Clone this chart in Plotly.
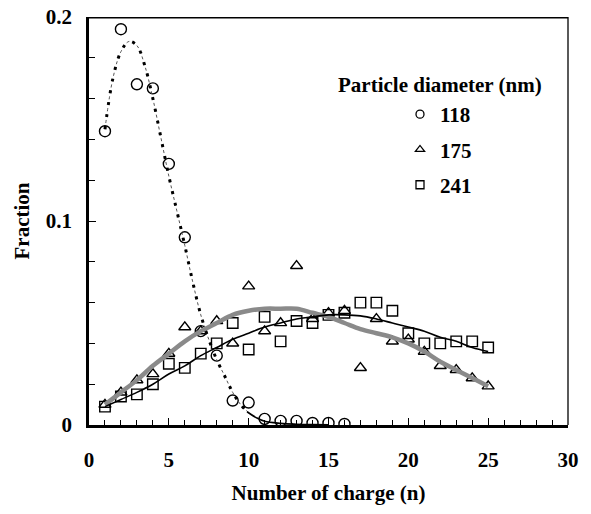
import plotly.graph_objects as go

# ---- data ----
n_118 = list(range(1, 17))
frac_118 = [0.144, 0.194, 0.167, 0.165, 0.128, 0.092, 0.046, 0.034, 0.012, 0.011,
            0.003, 0.002, 0.002, 0.001, 0.001, 0.0005]

n_175 = list(range(1, 26))
frac_175 = [0.010, 0.016, 0.022, 0.025, 0.035, 0.048, 0.046, 0.051, 0.040, 0.068,
            0.046, 0.050, 0.078, 0.052, 0.055, 0.056, 0.028, 0.052, 0.041, 0.042,
            0.036, 0.029, 0.027, 0.023, 0.019]

n_241 = list(range(1, 26))
frac_241 = [0.009, 0.014, 0.015, 0.020, 0.030, 0.028, 0.035, 0.040, 0.050, 0.037,
            0.053, 0.041, 0.051, 0.050, 0.054, 0.055, 0.060, 0.060, 0.056, 0.045,
            0.040, 0.040, 0.041, 0.041, 0.038]

# fitted curves
fit118_n = [1, 1.5, 2, 2.5, 3, 3.5, 4, 4.5, 5, 5.5, 6, 6.5, 7, 7.5, 8, 8.5, 9, 9.5, 10]
fit118_v = [0.145, 0.170, 0.183, 0.188, 0.186, 0.176, 0.160, 0.141, 0.122, 0.105,
            0.088, 0.070, 0.054, 0.042, 0.032, 0.024, 0.016, 0.010, 0.006]
tail118_n = [9.9, 10.5, 11, 12, 13, 14, 15]
tail118_v = [0.0065, 0.0035, 0.0018, 0.0008, 0.0004, 0.0002, 0.0001]

fit175_n = list(range(1, 26))
fit175_v = [0.010, 0.016, 0.022, 0.029, 0.035, 0.041, 0.046, 0.050, 0.054, 0.056,
            0.057, 0.057, 0.057, 0.055, 0.053, 0.050, 0.047, 0.045, 0.043, 0.040,
            0.036, 0.031, 0.027, 0.023, 0.019]

fit241_n = list(range(1, 26))
fit241_v = [0.009, 0.0125, 0.016, 0.020, 0.025, 0.029, 0.034, 0.038, 0.042, 0.045,
            0.048, 0.050, 0.052, 0.053, 0.054, 0.054, 0.0535, 0.052, 0.050, 0.048,
            0.046, 0.043, 0.041, 0.038, 0.036]

legend_labels = ["118", "175", "241"]
x_tickvals = [0, 5, 10, 15, 20, 25, 30]
y_tickvals = [0, 0.1, 0.2]
y_ticktext = ["0", "0.1", "0.2"]

FONT = "Liberation Serif"
FS = 21
BLACK = "#000000"
GREY = "#8a8a8a"

# the page's body margin is removed below, so figure coordinates = page coordinates
W, H = 591, 514
L, T = 89, 17
R = W - 568
B = H - 425
PW, PH = W - L - R, H - T - B


def px_x(page_x):
    return (page_x - L) / PW


def px_y(page_y):
    return 1 - (page_y - T) / PH


fig = go.Figure()

# markers
fig.add_trace(go.Scatter(x=n_118, y=frac_118, mode="markers", showlegend=False,
                         marker=dict(symbol="circle-open", size=11, color=BLACK,
                                     line=dict(width=1.4, color=BLACK))))
fig.add_trace(go.Scatter(x=n_175, y=frac_175, mode="markers", showlegend=False,
                         marker=dict(symbol="triangle-up-open", size=10.5, color=BLACK,
                                     line=dict(width=1.4, color=BLACK))))
fig.add_trace(go.Scatter(x=n_241, y=frac_241, mode="markers", showlegend=False,
                         marker=dict(symbol="square-open", size=10.5, color=BLACK,
                                     line=dict(width=1.4, color=BLACK))))

# fit lines
fig.add_trace(go.Scatter(x=fit118_n, y=fit118_v, mode="lines", showlegend=False,
                         line=dict(color="#555555", width=1, dash="3px,3px", shape="spline")))
fig.add_trace(go.Scatter(x=fit118_n, y=fit118_v, mode="lines", showlegend=False,
                         line=dict(color=BLACK, width=3, dash="3px,9px", shape="spline")))
fig.add_trace(go.Scatter(x=tail118_n, y=tail118_v, mode="lines", showlegend=False,
                         line=dict(color=BLACK, width=1.6, shape="spline")))
fig.add_trace(go.Scatter(x=fit175_n, y=fit175_v, mode="lines", showlegend=False,
                         line=dict(color=GREY, width=4.5, shape="spline")))
fig.add_trace(go.Scatter(x=fit241_n, y=fit241_v, mode="lines", showlegend=False,
                         line=dict(color=BLACK, width=1.6, shape="spline")))

# legend entries
for lab, sym in zip(legend_labels, ["circle-open", "triangle-up-open", "square-open"]):
    fig.add_trace(go.Scatter(x=[None], y=[None], mode="markers", name=lab,
                             legendgroup=lab,
                             marker=dict(symbol=sym, size=8, color=BLACK,
                                         line=dict(width=1.3, color=BLACK))))

fig.update_layout(
    width=W, height=H,
    margin=dict(l=L, r=R, t=T, b=B, autoexpand=False),
    paper_bgcolor="white", plot_bgcolor="white",
    font=dict(family=FONT, size=FS, color=BLACK),
    legend=dict(x=px_x(400), xanchor="left", y=px_y(94), yanchor="top",
                bgcolor="rgba(0,0,0,0)", borderwidth=0,
                font=dict(family=FONT, size=FS, color=BLACK, weight="bold"),
                tracegroupgap=5, itemwidth=30),
    annotations=[dict(text="<b>Particle diameter (nm)</b>", xref="paper", yref="paper",
                      x=px_x(440), y=px_y(85), xanchor="center",
                      yanchor="middle", showarrow=False,
                      font=dict(family=FONT, size=FS, color=BLACK))],
    shapes=[
        dict(type="line", xref="paper", yref="paper", x0=0, x1=1, y0=0.998, y1=0.998,
             layer="above", line=dict(color=BLACK, width=1.5)),
        dict(type="line", xref="paper", yref="paper", x0=1, x1=1, y0=0, y1=1,
             layer="above", line=dict(color=BLACK, width=1.3)),
    ],
)

fig.update_xaxes(
    range=[0, 30], tickvals=x_tickvals, ticks="inside", ticklen=7, tickwidth=1.3,
    tickcolor=BLACK, showline=True, linecolor=BLACK, linewidth=2.5, showgrid=False,
    zeroline=False, mirror=False, automargin=False, ticklabeloverflow="allow",
    minor=dict(dtick=1, ticks="inside", ticklen=5, tickwidth=1.3, tickcolor=BLACK),
    tickfont=dict(family=FONT, size=FS, color=BLACK, weight="bold"),
    ticklabelstandoff=14,
    title=dict(text="<b>Number of charge (n)</b>", standoff=15,
               font=dict(family=FONT, size=FS, color=BLACK)),
)
fig.update_yaxes(
    range=[0, 0.2], tickvals=y_tickvals, ticktext=y_ticktext, ticks="inside",
    ticklen=7, tickwidth=1.3, tickcolor=BLACK, showline=True, linecolor=BLACK,
    linewidth=2.5, showgrid=False, zeroline=False, mirror=False, automargin=False,
    ticklabeloverflow="allow",
    minor=dict(dtick=0.02, ticks="inside", ticklen=6, tickwidth=1.3, tickcolor=BLACK),
    tickfont=dict(family=FONT, size=FS, color=BLACK, weight="bold"),
    ticklabelstandoff=10,
    title=dict(text="<b>Fraction</b>", standoff=11,
               font=dict(family=FONT, size=FS, color=BLACK)),
)

fig.write_html("out.html",
               config={"displayModeBar": False},
               post_script="document.body.style.margin='0';"
                           "document.body.style.overflow='hidden';")
